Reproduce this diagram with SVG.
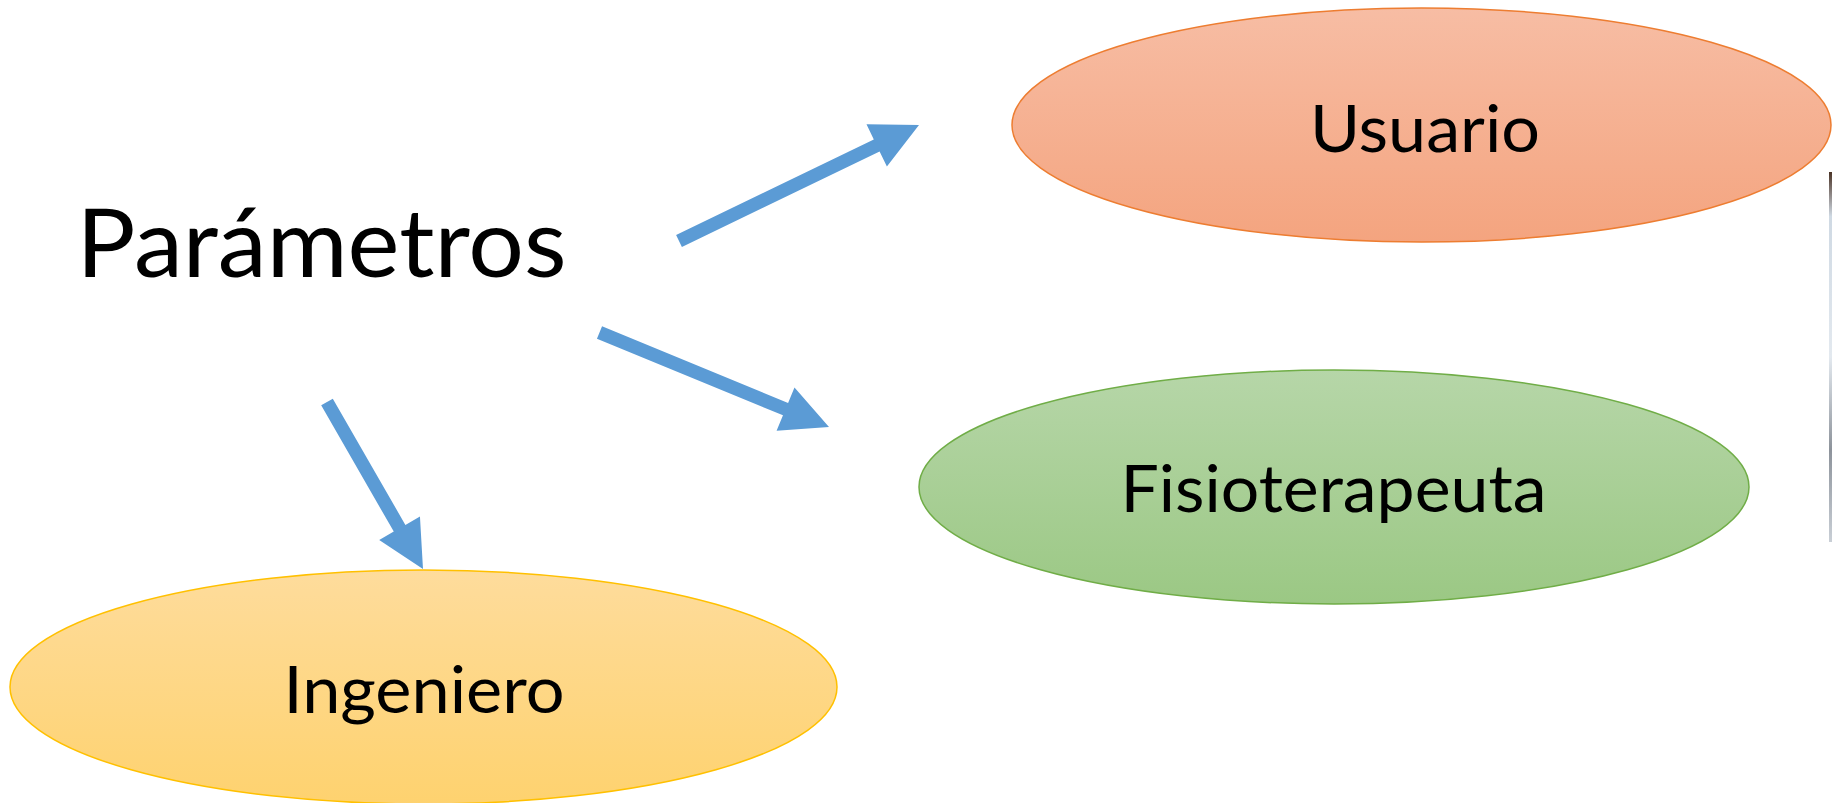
<svg xmlns="http://www.w3.org/2000/svg" width="1832" height="803" viewBox="0 0 1832 803">
<defs>
<linearGradient id="gOrange" x1="0" y1="0" x2="0" y2="1">
<stop offset="0" stop-color="#F7BDA4"/>
<stop offset="1" stop-color="#F4A47F"/>
</linearGradient>
<linearGradient id="gGreen" x1="0" y1="0" x2="0" y2="1">
<stop offset="0" stop-color="#B6D6A8"/>
<stop offset="1" stop-color="#9BC884"/>
</linearGradient>
<linearGradient id="gYellow" x1="0" y1="0" x2="0" y2="1">
<stop offset="0" stop-color="#FEDC9C"/>
<stop offset="1" stop-color="#FED26F"/>
</linearGradient>
<linearGradient id="gPhoto" x1="0" y1="0" x2="0" y2="1">
<stop offset="0" stop-color="#4a3326"/>
<stop offset="0.12" stop-color="#cfd9e3"/>
<stop offset="0.5" stop-color="#e3e9ef"/>
<stop offset="0.75" stop-color="#8d939b"/>
<stop offset="1" stop-color="#c9cfd6"/>
</linearGradient>
</defs>
<style>
.lbl{font-family:Lato,"Liberation Sans",sans-serif;font-size:66px;fill:#000;text-anchor:middle}
.title{font-family:Lato,"Liberation Sans",sans-serif;font-size:95px;fill:#000;text-anchor:middle}
.arrow{fill:#5B9BD5;stroke:none}
</style>
<rect width="1832" height="803" fill="#FFFFFF"/>
<rect x="1829" y="172" width="3" height="370" fill="url(#gPhoto)"/>
<g id="node-parametros">
<text class="title" x="321.5" y="277" textLength="490" lengthAdjust="spacingAndGlyphs">Parámetros</text>
</g>
<g id="node-usuario">
<ellipse cx="1421.5" cy="125" rx="409.5" ry="117" fill="url(#gOrange)" stroke="#ED7D31" stroke-width="1.5"/>
<text class="lbl" x="1425" y="152" textLength="230" lengthAdjust="spacingAndGlyphs">Usuario</text>
</g>
<g id="node-fisioterapeuta">
<ellipse cx="1334" cy="487" rx="415" ry="117" fill="url(#gGreen)" stroke="#70AD47" stroke-width="1.5"/>
<text class="lbl" x="1333.5" y="512" textLength="426" lengthAdjust="spacingAndGlyphs">Fisioterapeuta</text>
</g>
<g id="node-ingeniero">
<ellipse cx="423.5" cy="687" rx="413.5" ry="117" fill="url(#gYellow)" stroke="#FFC000" stroke-width="1.5"/>
<text class="lbl" x="424" y="713" textLength="281" lengthAdjust="spacingAndGlyphs">Ingeniero</text>
</g>
<g id="connectors">
<polygon class="arrow" points="676.1,235.0 873.8,139.4 866.5,124.3 919,125 886.9,166.6 879.6,151.5 681.9,247.0"/>
<polygon class="arrow" points="602.05,326.30 788.09,402.91 794.49,387.38 829,427 776.59,430.84 782.99,415.31 596.95,338.70"/>
<polygon class="arrow" points="332.81,398.66 405.39,524.91 419.95,516.54 423,569 379.21,539.96 393.77,531.59 321.19,405.34"/>
</g>
</svg>
